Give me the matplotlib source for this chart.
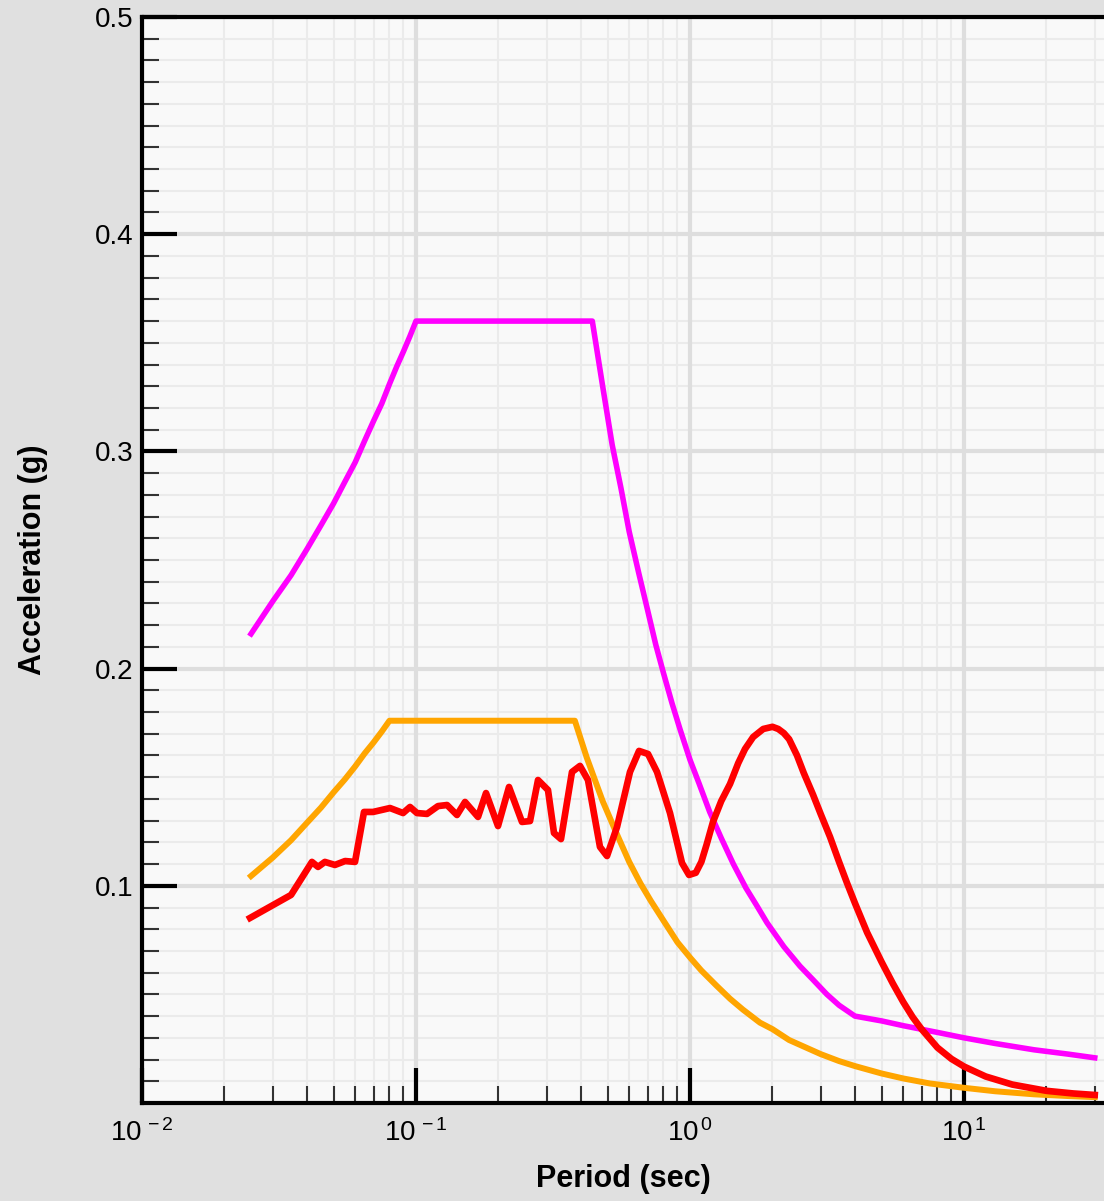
import matplotlib
matplotlib.use('Agg')
import matplotlib.pyplot as plt
from matplotlib.ticker import MultipleLocator, LogLocator, NullFormatter, FixedLocator

plt.rcParams['font.family'] = ['Liberation Sans', 'DejaVu Sans']
plt.rcParams['mathtext.fontset'] = 'custom'
plt.rcParams['mathtext.rm'] = 'Liberation Sans'
plt.rcParams['mathtext.it'] = 'Liberation Sans'

# design spectrum (upper, magenta)
mag_T = [0.025, 0.030, 0.035, 0.040, 0.045, 0.050, 0.055, 0.060, 0.065, 0.070, 0.075,
         0.080, 0.085, 0.090, 0.095, 0.10, 0.44, 0.48, 0.52, 0.56, 0.60, 0.65, 0.70,
         0.75, 0.80, 0.86, 0.92, 1.0, 1.08, 1.18, 1.30, 1.44, 1.60, 1.75, 1.91, 2.2,
         2.52, 2.8, 3.16, 3.5, 4.0, 5.0, 6.0, 8.0, 10.0, 13.0, 18.0, 24.0, 30.0]
mag_Sa = [0.216, 0.231, 0.243, 0.255, 0.266, 0.276, 0.286, 0.295, 0.305, 0.314, 0.322,
          0.331, 0.339, 0.346, 0.353, 0.360, 0.360, 0.330, 0.303, 0.283, 0.263, 0.244, 0.227,
          0.211, 0.198, 0.184, 0.172, 0.158, 0.147, 0.134, 0.122, 0.110, 0.099, 0.091, 0.083, 0.072,
          0.063, 0.057, 0.050, 0.045, 0.0400, 0.0378, 0.0356, 0.0325, 0.0300, 0.0274, 0.0245, 0.0225, 0.0208]

# design spectrum (lower, orange)
org_T = [0.025, 0.030, 0.035, 0.040, 0.045, 0.050, 0.055, 0.060, 0.065, 0.070, 0.075,
         0.080, 0.38, 0.42, 0.48, 0.54, 0.60, 0.66, 0.72, 0.80, 0.90, 1.0, 1.1, 1.25,
         1.4, 1.56, 1.8, 2.0, 2.3, 2.6, 3.0, 3.5, 4.0, 5.0, 6.0, 7.5, 10.0, 13.0, 18.0, 24.0, 30.0]
org_Sa = [0.1045, 0.113, 0.121, 0.129, 0.136, 0.143, 0.149, 0.155, 0.161, 0.166, 0.171,
          0.176, 0.176, 0.159, 0.139, 0.124, 0.111, 0.101, 0.093, 0.084, 0.074, 0.067, 0.061, 0.054,
          0.048, 0.043, 0.037, 0.034, 0.029, 0.026, 0.0225, 0.0193, 0.0170, 0.0136, 0.0113, 0.0090,
          0.0070, 0.0054, 0.0040, 0.0032, 0.0027]

# response spectrum of the record (red)
rec_T = [0.0248, 0.0350, 0.0417, 0.0439, 0.0465, 0.0506, 0.0551, 0.0599, 0.0646, 0.0697,
         0.0804, 0.0897, 0.0951, 0.1008, 0.1097, 0.1203, 0.1298, 0.1411, 0.1510, 0.1684,
         0.1801, 0.1992, 0.2185, 0.2437, 0.2607, 0.2788, 0.3032, 0.3189, 0.3382, 0.3709,
         0.3967, 0.4243, 0.4693, 0.4978, 0.5416, 0.6039, 0.6516, 0.7027, 0.7580, 0.8453,
         0.9350, 0.9917, 1.05, 1.10, 1.15, 1.213, 1.30, 1.40, 1.50, 1.588, 1.70, 1.85, 2.0,
         2.1, 2.2, 2.3, 2.458, 2.6, 2.811, 3.0, 3.244, 3.5, 3.741, 4.0, 4.43, 5.0, 5.5,
         6.0, 6.5, 7.0, 8.0, 9.0, 10.0, 12.0, 15.0, 20.0, 25.0, 30.0]
rec_Sa = [0.0852, 0.0958, 0.1110, 0.1087, 0.1110, 0.1096, 0.1114, 0.1110, 0.1340, 0.1340,
          0.1358, 0.1335, 0.1363, 0.1335, 0.1331, 0.1367, 0.1372, 0.1326, 0.1386, 0.1317,
          0.1427, 0.1275, 0.1455, 0.1294, 0.1298, 0.1487, 0.1441, 0.1243, 0.1215, 0.1524,
          0.1552, 0.1487, 0.1179, 0.1137, 0.1271, 0.1524, 0.1621, 0.1607, 0.1524, 0.1335,
          0.1105, 0.1050, 0.1060, 0.1110, 0.1190, 0.1294, 0.1390, 0.1469, 0.1565, 0.1630, 0.1685, 0.1722, 0.1732,
          0.1722, 0.1703, 0.1675, 0.1600, 0.1520, 0.1420, 0.1330, 0.1225, 0.1110, 0.1013, 0.0920, 0.0785, 0.0650, 0.0550,
          0.0465, 0.0395, 0.0340, 0.0255, 0.0203, 0.0168, 0.0122, 0.0085, 0.0056, 0.0044, 0.0037]

fig = plt.figure(figsize=(11.04, 12.01), dpi=100, facecolor='#e0e0e0')
ax = fig.add_axes([142 / 1104, 98 / 1201, 962 / 1104, 1086 / 1201])
ax.set_facecolor('#f9f9f9')

ax.plot(mag_T, mag_Sa, color='#ff00ff', lw=4.0, solid_joinstyle='round', zorder=2.1)
ax.plot(org_T, org_Sa, color='#ffa500', lw=4.3, solid_joinstyle='round', zorder=2.1)
ax.plot(rec_T, rec_Sa, color='#ff0000', lw=4.8, solid_joinstyle='round', zorder=2.2)

ax.set_xscale('log')
ax.set_xlim(0.01, 10 ** (-2 + 962 / 274))
ax.set_ylim(0, 0.5)
ax.yaxis.set_major_locator(FixedLocator([0.1, 0.2, 0.3, 0.4, 0.5]))
ax.set_yticklabels(['0.1', '0.2', '0.3', '0.4', '0.5'])
ax.yaxis.set_minor_locator(MultipleLocator(0.01))
ax.xaxis.set_major_locator(FixedLocator([0.01, 0.1, 1, 10]))
ax.set_xticklabels([r'$10^{\,-2}$', r'$10^{\,-1}$', r'$10^{\,0}$', r'$10^{\,1}$'])
ax.xaxis.set_minor_locator(LogLocator(base=10, subs=range(2, 10), numticks=20))
ax.xaxis.set_minor_formatter(NullFormatter())

# grid drawn under the curves, ticks stay on top
for v in ax.xaxis.get_minorticklocs():
    ax.axvline(v, color='#ebebeb', lw=1.5, zorder=0.2)
for v in ax.yaxis.get_minorticklocs():
    ax.axhline(v, color='#ebebeb', lw=1.5, zorder=0.2)
for v in ax.xaxis.get_majorticklocs():
    ax.axvline(v, color='#dedede', lw=3, zorder=0.3)
for v in ax.yaxis.get_majorticklocs():
    ax.axhline(v, color='#dedede', lw=3, zorder=0.3)

ax.tick_params(which='major', direction='in', length=25, width=3, color='black',
               labelsize=20, top=False, right=False)
ax.tick_params(axis='x', which='major', pad=12)
ax.tick_params(axis='y', which='major', pad=6)
ax.tick_params(which='minor', direction='in', length=12, width=1.5, color='#333333',
               top=False, right=False)

for s in ['left', 'bottom', 'top']:
    ax.spines[s].set_linewidth(3)
    ax.spines[s].set_color('black')
ax.spines['right'].set_visible(False)

ax.set_xlabel('Period (sec)', fontsize=22, fontweight='bold', labelpad=12)
ax.set_ylabel('Acceleration (g)', fontsize=22, fontweight='bold', labelpad=34)

fig.savefig('out.png', dpi=100, facecolor=fig.get_facecolor())
